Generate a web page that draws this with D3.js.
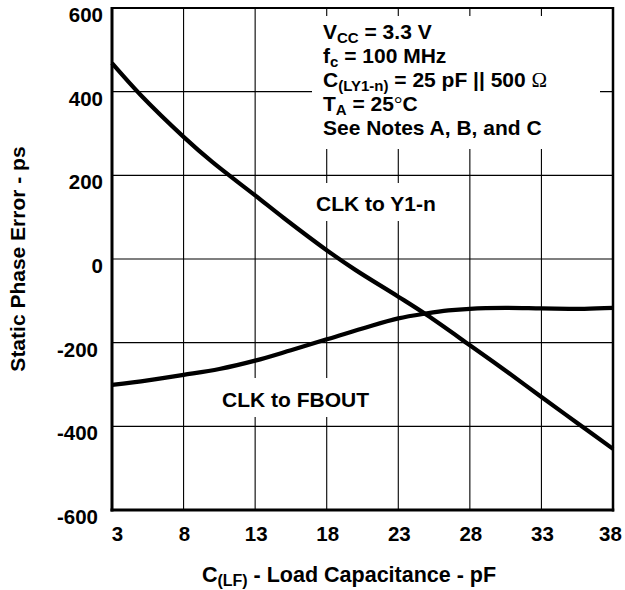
<!DOCTYPE html>
<html><head><meta charset="utf-8">
<script src="https://cdn.jsdelivr.net/npm/d3@7"></script>
<style>
body{margin:0;background:#fff;}
svg text{font-family:"Liberation Sans",Arial,Helvetica,sans-serif;font-weight:bold;fill:#000;}
</style></head><body>
<svg id="chart" width="625" height="590"></svg>
<script>
// ---- data ----
const xTicks = [3, 8, 13, 18, 23, 28, 33, 38];
const xTickLabels = ["3", "8", "13", "18", "23", "28", "33", "38"];
const yTicks = [600, 400, 200, 0, -200, -400, -600];
const yTickLabels = ["600", "400", "200", "0", "-200", "-400", "-600"];

const y1nCap = [3, 5, 8, 10, 13, 15, 18, 20, 23, 25, 28, 30.5, 33, 35.5, 38];
const y1nErr = [468, 392, 292, 232, 152, 98, 21, -26, -90, -134, -206, -267, -330, -392, -454];

const fbCap = [3, 5.5, 8, 10.5, 13, 15.5, 18, 20.5, 23, 25, 26.5, 28, 30.5, 33, 36, 38];
const fbErr = [-301, -290, -277, -263, -243, -218, -192, -166, -142, -130, -123, -119, -117, -118, -119, -117];

const seriesLabels = ["CLK to Y1-n", "CLK to FBOUT"];
const xTitle = ["C", "(LF)", " - Load Capacitance - pF"];
const yTitle = "Static Phase Error - ps";

// ---- scales ----
const svg = d3.select("#chart");
svg.append("rect").attr("width", 625).attr("height", 590).attr("fill", "#fff");

const x = d3.scaleLinear().domain([3, 38]).range([112, 613]);
const y = d3.scaleLinear().domain([-600, 600]).range([510, 8]);

// ---- grid ----
const grid = svg.append("g").attr("stroke", "#000").attr("stroke-width", 1.1);
grid.selectAll("line.v").data(xTicks.slice(1, -1)).join("line")
  .attr("x1", d => x(d)).attr("x2", d => x(d))
  .attr("y1", y(600)).attr("y2", y(-600));
grid.selectAll("line.h").data(yTicks.slice(1, -1)).join("line")
  .attr("x1", x(3)).attr("x2", x(38))
  .attr("y1", d => y(d)).attr("y2", d => y(d));

// white boxes behind annotations
const boxes = svg.append("g").attr("fill", "#fff");
boxes.append("rect").attr("x", 312).attr("y", 16).attr("width", 288).attr("height", 133);
boxes.append("rect").attr("x", 312).attr("y", 183).attr("width", 130).attr("height", 38);
boxes.append("rect").attr("x", 218).attr("y", 378).attr("width", 154).attr("height", 39);

// ---- curves ----
const line = d3.line().x(d => x(d[0])).y(d => y(d[1])).curve(d3.curveCatmullRom.alpha(0.5));
svg.append("path").datum(y1nCap.map((c, i) => [c, y1nErr[i]]))
  .attr("d", line).attr("fill", "none").attr("stroke", "#000").attr("stroke-width", 4.2)
  .attr("stroke-linejoin", "round");
svg.append("path").datum(fbCap.map((c, i) => [c, fbErr[i]]))
  .attr("d", line).attr("fill", "none").attr("stroke", "#000").attr("stroke-width", 4.2)
  .attr("stroke-linejoin", "round");

// ---- frame ----
const frame = svg.append("g").attr("stroke", "#000");
frame.append("line").attr("x1", x(3)).attr("x2", x(38)).attr("y1", y(600)).attr("y2", y(600)).attr("stroke-width", 2);
frame.append("line").attr("x1", x(38)).attr("x2", x(38)).attr("y1", y(600) - 1).attr("y2", y(-600) + 1.5).attr("stroke-width", 2.5);
frame.append("line").attr("x1", x(3)).attr("x2", x(3)).attr("y1", y(600) - 1).attr("y2", y(-600) + 1.5).attr("stroke-width", 3);
frame.append("line").attr("x1", x(3) - 1.5).attr("x2", x(38) + 1.25).attr("y1", y(-600)).attr("y2", y(-600)).attr("stroke-width", 3);

// ---- axes (labels only) ----
const xAxis = svg.append("g").attr("transform", `translate(0,${y(-600)})`)
  .call(d3.axisBottom(x).tickValues(xTicks).tickSize(0).tickPadding(0)
    .tickFormat((d, i) => xTickLabels[i]));
xAxis.select(".domain").remove();
xAxis.selectAll("text").attr("font-size", 20.5).attr("dy", null).attr("y", 31)
  .attr("dx", (d, i) => i === 0 ? 5 : (i === xTicks.length - 1 ? -3 : 0.5));

const yAxis = svg.append("g").attr("transform", `translate(${x(3)},0)`)
  .call(d3.axisLeft(y).tickValues(yTicks).tickSize(0).tickPadding(9)
    .tickFormat((d, i) => yTickLabels[i]));
yAxis.select(".domain").remove();
yAxis.selectAll("text").attr("font-size", 20.5).attr("dy", "0.36em")
  .attr("dx", d => d < 0 ? -5 : 0)
  .attr("transform", "translate(0,6)");

// ---- titles ----
const xt = svg.append("text").attr("x", 349).attr("y", 582).attr("text-anchor", "middle").attr("font-size", 21.5);
xt.append("tspan").text(xTitle[0]);
xt.append("tspan").attr("font-size", 16).attr("dy", 4).text(xTitle[1]);
xt.append("tspan").attr("dy", -4).text(xTitle[2]);

svg.append("text").attr("transform", "translate(25,259) rotate(-90)")
  .attr("text-anchor", "middle").attr("font-size", 21).text(yTitle);

// ---- annotations ----
const ann = svg.append("g").attr("font-size", 21);
function annLine(yPos, parts) {
  const t = ann.append("text").attr("x", 323).attr("y", yPos);
  parts.forEach(p => {
    const s = t.append("tspan").text(p.t);
    if (p.sub) s.attr("font-size", 15).attr("dy", 3.5);
    if (p.back) s.attr("dy", -3.5);
    if (p.sym) s.style("font-family", "'Liberation Serif','DejaVu Serif',serif").style("font-weight", "normal");
  });
}
annLine(39, [{t: "V"}, {t: "CC", sub: true}, {t: " = 3.3 V", back: true}]);
annLine(63, [{t: "f"}, {t: "c", sub: true}, {t: " = 100 MHz", back: true}]);
annLine(87, [{t: "C"}, {t: "(LY1-n)", sub: true}, {t: " = 25 pF || 500 ", back: true}, {t: "\u03A9", sym: true}]);
annLine(111, [{t: "T"}, {t: "A", sub: true}, {t: " = 25", back: true}, {t: "\u00B0", sym: true}, {t: "C"}]);
annLine(135, [{t: "See Notes A, B, and C"}]);

svg.append("text").attr("x", 316).attr("y", 211).attr("font-size", 21).text(seriesLabels[0]);
svg.append("text").attr("x", 222).attr("y", 407).attr("font-size", 21).text(seriesLabels[1]);
</script>
</body></html>
